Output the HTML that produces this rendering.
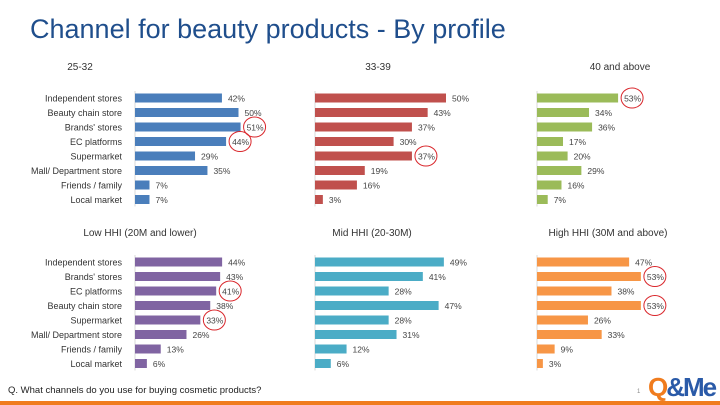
<!DOCTYPE html>
<html><head><meta charset="utf-8"><style>
body{margin:0;width:720px;height:405px;overflow:hidden;background:#fff;font-family:"Liberation Sans",sans-serif;position:relative}
#title{position:absolute;left:30px;top:14px;font-size:27px;color:#1f4e8c;margin:0;font-weight:normal}
#foot{position:absolute;left:8px;top:385px;font-size:9.5px;color:#222}
#bar-line{position:absolute;left:0;top:401px;width:720px;height:4px;background:#f07c1e}
#logo{position:absolute;left:648px;top:372px;font-size:26px;font-weight:bold;color:#f07c1e;letter-spacing:-2px}
#logo span{color:#2a5aa8}
#pg{position:absolute;left:637px;top:389px;font-size:6px;color:#888}
</style></head><body>
<h1 id="title">Channel for beauty products - By profile</h1>
<svg id="chart" width="720" height="405" style="position:absolute;left:0;top:0"></svg>
<div id="foot">Q. What channels do you use for buying cosmetic products?</div>
<div id="pg">1</div>
<div id="logo">Q<span>&amp;Me</span></div>
<div id="bar-line"></div>
<script>
const topCats=["Independent stores","Beauty chain store","Brands' stores","EC platforms","Supermarket","Mall/ Department store","Friends / family","Local market"];
const botCats=["Independent stores","Brands' stores","EC platforms","Beauty chain store","Supermarket","Mall/ Department store","Friends / family","Local market"];
const titles=["25-32","33-39","40 and above","Low HHI (20M and lower)","Mid HHI (20-30M)","High HHI (30M and above)"];
const v2532=[42,50,51,44,29,35,7,7];
const v3339=[50,43,37,30,37,19,16,3];
const v40=[53,34,36,17,20,29,16,7];
const vLow=[44,43,41,38,33,26,13,6];
const vMid=[49,41,28,47,28,31,12,6];
const vHigh=[47,53,38,53,26,33,9,3];
const circ2532=[2,3],circ3339=[4],circ40=[0],circLow=[2,4],circMid=[],circHigh=[1,3];
const NS="http://www.w3.org/2000/svg";
const svg=document.getElementById('chart');
function mk(t,a){const e=document.createElementNS(NS,t);for(const k in a)e.setAttribute(k,a[k]);svg.appendChild(e);return e;}
const panels=[
{vals:v2532,cats:topCats,circ:circ2532,x0:135,s:2.07,y0:98,ty:70,tx:80,col:"#4a7ebb",lab:true},
{vals:v3339,cats:topCats,circ:circ3339,x0:315,s:2.62,y0:98,ty:70,tx:378,col:"#c0504d",lab:false},
{vals:v40,cats:topCats,circ:circ40,x0:537,s:1.53,y0:98,ty:70,tx:620,col:"#9bbb59",lab:false},
{vals:vLow,cats:botCats,circ:circLow,x0:135,s:1.98,y0:262,ty:236,tx:140,col:"#8064a2",lab:true},
{vals:vMid,cats:botCats,circ:circMid,x0:315,s:2.63,y0:262,ty:236,tx:372,col:"#4bacc6",lab:false},
{vals:vHigh,cats:botCats,circ:circHigh,x0:537,s:1.96,y0:262,ty:236,tx:608,col:"#f79646",lab:false}];
const step=14.5;
panels.forEach((p,pi)=>{
 const t=mk('text',{x:p.tx,y:p.ty,'text-anchor':'middle','font-size':10,fill:'#333'});t.textContent=titles[pi];
 
 
 const ax=mk('line',{x1:p.x0,x2:p.x0,y1:p.y0-7,y2:p.y0+7*step+7,stroke:'#d9d9d9','stroke-width':1});
 
 
 p.vals.forEach((v,i)=>{
  const y=p.y0+i*step;
  const r=mk('rect',{x:p.x0,y:y-4.5,width:v*p.s,height:9,fill:p.col});
  
  
  const lx=p.x0+v*p.s+6;
  const l=mk('text',{x:lx,y:y+3.5,'font-size':8.5,fill:'#444'});l.textContent=v+'%';
  
  
  if(p.circ.includes(i)){
   const c=mk('ellipse',{cx:lx+8,cy:y,rx:11,ry:10,fill:'none',stroke:'#d9262b','stroke-width':1});
   
   
  }
  if(p.lab){
   const c=mk('text',{x:p.x0-13,y:y+3.5,'text-anchor':'end','font-size':9,fill:'#333'});c.textContent=p.cats[i];
   
   
  }
 });
});
</script>
</body></html>
